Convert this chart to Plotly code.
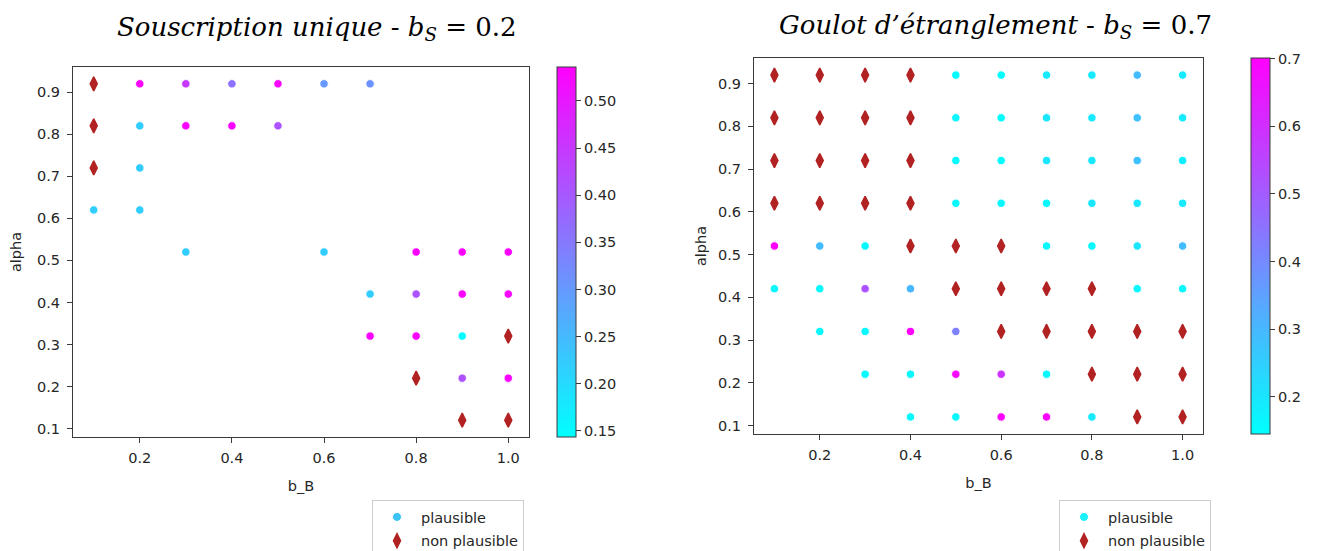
import plotly.graph_objects as go

# ---------------- data ----------------
# Left panel: Souscription unique, b_S = 0.2
left_ok_x = [0.2, 0.3, 0.4, 0.5, 0.6, 0.7,
             0.2, 0.3, 0.4, 0.5,
             0.2,
             0.1, 0.2,
             0.3, 0.6, 0.8, 0.9, 1.0,
             0.7, 0.8, 0.9, 1.0,
             0.7, 0.8, 0.9,
             0.9, 1.0]
left_ok_y = [0.92, 0.92, 0.92, 0.92, 0.92, 0.92,
             0.82, 0.82, 0.82, 0.82,
             0.72,
             0.62, 0.62,
             0.52, 0.52, 0.52, 0.52, 0.52,
             0.42, 0.42, 0.42, 0.42,
             0.32, 0.32, 0.32,
             0.22, 0.22]
left_ok_val = [0.53, 0.45, 0.36, 0.53, 0.30, 0.31,
               0.22, 0.53, 0.53, 0.41,
               0.22,
               0.22, 0.22,
               0.22, 0.22, 0.53, 0.53, 0.53,
               0.22, 0.41, 0.53, 0.53,
               0.53, 0.53, 0.145,
               0.41, 0.53]
left_bad_x = [0.1, 0.1, 0.1, 1.0, 0.8, 0.9, 1.0]
left_bad_y = [0.92, 0.82, 0.72, 0.32, 0.22, 0.12, 0.12]

# Right panel: Goulot d'étranglement, b_S = 0.7
right_ok_x = [0.5, 0.6, 0.7, 0.8, 0.9, 1.0,
              0.5, 0.6, 0.7, 0.8, 0.9, 1.0,
              0.5, 0.6, 0.7, 0.8, 0.9, 1.0,
              0.5, 0.6, 0.7, 0.8, 0.9, 1.0,
              0.1, 0.2, 0.3, 0.7, 0.8, 0.9, 1.0,
              0.1, 0.2, 0.3, 0.4, 0.9, 1.0,
              0.2, 0.3, 0.4, 0.5,
              0.3, 0.4, 0.5, 0.6, 0.7,
              0.4, 0.5, 0.6, 0.7, 0.8]
right_ok_y = [0.92] * 6 + [0.82] * 6 + [0.72] * 6 + [0.62] * 6 + \
             [0.52] * 7 + [0.42] * 6 + [0.32] * 4 + [0.22] * 5 + [0.12] * 5
right_ok_val = [0.15, 0.15, 0.19, 0.19, 0.29, 0.19,
                0.16, 0.15, 0.20, 0.19, 0.28, 0.19,
                0.15, 0.15, 0.20, 0.20, 0.28, 0.18,
                0.16, 0.16, 0.16, 0.20, 0.20, 0.19,
                0.70, 0.29, 0.16, 0.16, 0.16, 0.20, 0.29,
                0.16, 0.16, 0.52, 0.30, 0.16, 0.16,
                0.16, 0.16, 0.70, 0.42,
                0.16, 0.16, 0.69, 0.59, 0.16,
                0.16, 0.16, 0.70, 0.70, 0.19]
right_bad_x = [0.1, 0.2, 0.3, 0.4,
               0.1, 0.2, 0.3, 0.4,
               0.1, 0.2, 0.3, 0.4,
               0.1, 0.2, 0.3, 0.4,
               0.4, 0.5, 0.6,
               0.5, 0.6, 0.7, 0.8,
               0.6, 0.7, 0.8, 0.9, 1.0,
               0.8, 0.9, 1.0,
               0.9, 1.0]
right_bad_y = [0.92] * 4 + [0.82] * 4 + [0.72] * 4 + [0.62] * 4 + \
              [0.52] * 3 + [0.42] * 4 + [0.32] * 5 + [0.22] * 3 + [0.12] * 2

left_cmin, left_cmax = 0.1436, 0.536
right_cmin, right_cmax = 0.145, 0.701

titles = ["<i>Souscription unique</i> - <i>b<sub>S</sub></i> = 0.2",
          "<i>Goulot d\u2019\u00e9tranglement</i> - <i>b<sub>S</sub></i> = 0.7"]
legend_labels = ["plausible", "non plausible"]

# ---------------- styling ----------------
W, H = 1325, 551
FONT = "DejaVu Sans"
FS = 14.5
TXT = "#262626"
COOL = [[0, "#00ffff"], [1, "#ff00ff"]]
BAD = "#b22222"

def px_x(p):
    return p / W

def px_y(p):
    return 1 - p / H

fig = go.Figure()

def add_panel(ok_x, ok_y, ok_val, bad_x, bad_y, xa, ya, cax, legend, legend_color):
    fig.add_trace(go.Scatter(
        x=ok_x, y=ok_y, mode="markers", xaxis=xa, yaxis=ya, showlegend=False,
        marker=dict(size=8.5, color=ok_val, coloraxis=cax, symbol="circle",
                    line=dict(color="white", width=1)),
    ))
    fig.add_trace(go.Scatter(
        x=bad_x, y=bad_y, mode="markers", xaxis=xa, yaxis=ya, showlegend=False,
        marker=dict(size=10, color=BAD, symbol="diamond-tall",
                    line=dict(color=BAD, width=1.5)),
    ))
    # legend entries
    fig.add_trace(go.Scatter(
        x=[None], y=[None], mode="markers", xaxis=xa, yaxis=ya, name=legend_labels[0],
        legend=legend, legendgroup=legend + "a",
        marker=dict(size=9, color=legend_color, line=dict(color="white", width=1)),
    ))
    fig.add_trace(go.Scatter(
        x=[None], y=[None], mode="markers", xaxis=xa, yaxis=ya, name=legend_labels[1],
        legend=legend, legendgroup=legend + "b",
        marker=dict(size=10, color=BAD, symbol="diamond-tall",
                    line=dict(color=BAD, width=1.5)),
    ))

add_panel(left_ok_x, left_ok_y, left_ok_val, left_bad_x, left_bad_y,
          "x", "y", "coloraxis", "legend", "#3cc4f7")
add_panel(right_ok_x, right_ok_y, right_ok_val, right_bad_x, right_bad_y,
          "x2", "y2", "coloraxis2", "legend2", "#1cf0fb")

axis_common = dict(
    showgrid=False, zeroline=False, showline=True, mirror=True,
    linecolor="#3a3a3a", linewidth=1, ticks="outside", ticklen=5,
    tickcolor="#3a3a3a", tickfont=dict(family=FONT, size=FS, color=TXT),
)

x_range = [0.055, 1.045]
y_range = [0.08, 0.96]

L = dict(x0=73, x1=529, y0=67, y1=437)
R = dict(x0=754, x1=1203, y0=58, y1=434)

def cbar(x_px, top_px, bot_px, fmt, dtick):
    return dict(
        x=px_x(x_px), xanchor="left", xref="paper",
        y=px_y(top_px), yanchor="top", yref="paper",
        len=(bot_px - top_px) / H, lenmode="fraction",
        thickness=19, thicknessmode="pixels",
        outlinewidth=1, outlinecolor="#3a3a3a",
        ticks="outside", ticklen=5, tickcolor="#3a3a3a",
        tickformat=fmt, dtick=dtick, tick0=0,
        tickfont=dict(family=FONT, size=FS, color=TXT),
        xpad=0, ypad=0,
    )

def xax(dom, anchor):
    return dict(domain=dom, range=x_range, dtick=0.2, tick0=0, tickformat=".1f",
                anchor=anchor, ticklabelstandoff=3,
                title=dict(text="b_B", standoff=15, font=dict(family=FONT, size=FS, color=TXT)),
                **axis_common)

def yax(dom, anchor, standoff):
    return dict(domain=dom, range=y_range, dtick=0.1, tick0=0, tickformat=".1f",
                anchor=anchor, ticklabelstandoff=4,
                title=dict(text="alpha", standoff=standoff,
                           font=dict(family=FONT, size=FS, color=TXT)),
                **axis_common)

leg_common = dict(yanchor="top", xanchor="left", bordercolor="#cccccc", borderwidth=1,
                  bgcolor="white", font=dict(family=FONT, size=FS, color=TXT),
                  traceorder="grouped", tracegroupgap=2, itemwidth=38)

fig.update_layout(
    width=W, height=H,
    margin=dict(l=0, r=0, t=0, b=0, autoexpand=False),
    paper_bgcolor="white", plot_bgcolor="white",
    font=dict(family=FONT, size=FS, color=TXT),
    xaxis=xax([px_x(L["x0"]), px_x(L["x1"])], "y"),
    yaxis=yax([px_y(L["y1"]), px_y(L["y0"])], "x", 11),
    xaxis2=xax([px_x(R["x0"]), px_x(R["x1"])], "y2"),
    yaxis2=yax([px_y(R["y1"]), px_y(R["y0"])], "x2", 7),
    coloraxis=dict(colorscale=COOL, cmin=left_cmin, cmax=left_cmax,
                   colorbar=cbar(557, L["y0"], L["y1"], ".2f", 0.05)),
    coloraxis2=dict(colorscale=COOL, cmin=right_cmin, cmax=right_cmax,
                    colorbar=cbar(1251, R["y0"], R["y1"], ".1f", 0.1)),
    legend=dict(x=px_x(372), y=px_y(500), **leg_common),
    legend2=dict(x=px_x(1059), y=px_y(500), **leg_common),
    showlegend=True,
)

fig.add_annotation(text=titles[0], xref="paper", yref="paper",
                   x=px_x(317), y=px_y(28), xanchor="center", yanchor="middle",
                   showarrow=False,
                   font=dict(family="DejaVu Serif", size=26, color="black"))
fig.add_annotation(text=titles[1], xref="paper", yref="paper",
                   x=px_x(995), y=px_y(26), xanchor="center", yanchor="middle",
                   showarrow=False,
                   font=dict(family="DejaVu Serif", size=26, color="black"))

fig.write_html("out.html")
